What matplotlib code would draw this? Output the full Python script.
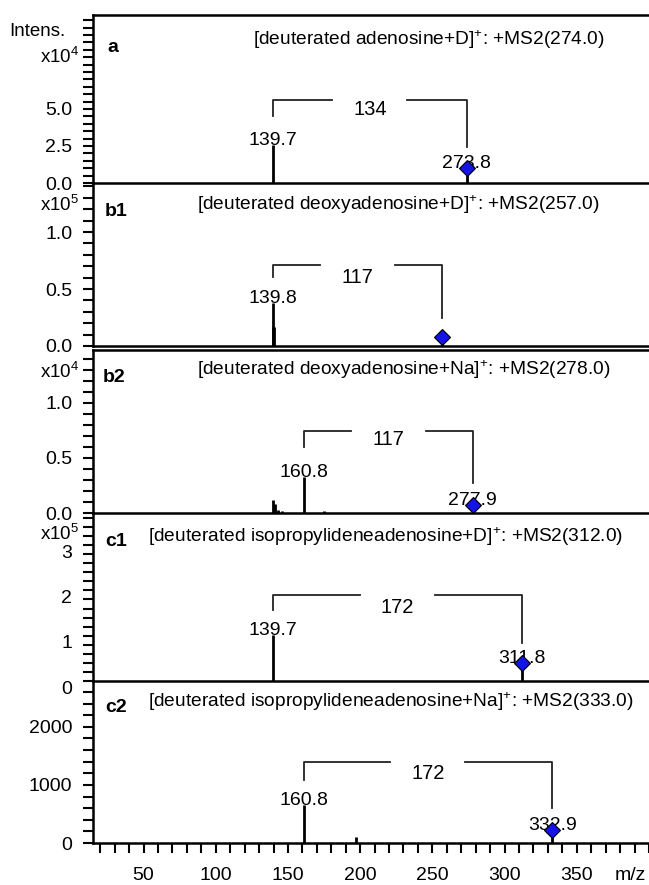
import matplotlib
matplotlib.use('Agg')
import matplotlib.pyplot as plt
import matplotlib.transforms as mtransforms
from matplotlib.ticker import MultipleLocator, FixedLocator, FixedFormatter

plt.rcParams['font.family'] = ['Liberation Sans', 'DejaVu Sans']
plt.rcParams['mathtext.fontset'] = 'custom'
plt.rcParams['mathtext.rm'] = 'Liberation Sans'
plt.rcParams['mathtext.default'] = 'regular'

# Peak lists (m/z, intensity) for each MS2 spectrum
a_mz = [139.7, 273.8]
a_int = [2.6e4, 1.0e4]

b1_mz = [139.3, 139.8, 140.3, 257.0]
b1_int = [0.17e5, 0.38e5, 0.17e5, 0.08e5]

b2_mz = [139.7, 141.0, 143.0, 146.0, 160.8, 175.0, 277.9]
b2_int = [0.12e4, 0.08e4, 0.03e4, 0.015e4, 0.33e4, 0.015e4, 0.07e4]

c1_mz = [139.7, 311.8]
c1_int = [1.02e5, 0.40e5]

c2_mz = [160.8, 197.0, 332.9]
c2_int = [655, 100, 225]

# fragment / precursor labels and neutral loss
frag_mz = [139.7, 139.8, 160.8, 139.7, 160.8]
prec_mz = [273.8, 257.0, 277.9, 311.8, 332.9]
prec_int = [1.0e4, 0.08e5, 0.07e4, 0.40e5, 225]
frag_labels = ['139.7', '139.8', '160.8', '139.7', '160.8']
prec_labels = ['273.8', '', '277.9', '311.8', '332.9']
loss_labels = ['134', '117', '117', '172', '172']

titles = [
    '[deuterated adenosine+D]$^{+}$: +MS2(274.0)',
    '[deuterated deoxyadenosine+D]$^{+}$: +MS2(257.0)',
    '[deuterated deoxyadenosine+Na]$^{+}$: +MS2(278.0)',
    '[deuterated isopropylideneadenosine+D]$^{+}$: +MS2(312.0)',
    '[deuterated isopropylideneadenosine+Na]$^{+}$: +MS2(333.0)',
]
panel_names = ['a', 'b1', 'b2', 'c1', 'c2']
y_major = [[0, 2.5e4, 5.0e4], [0, 0.5e5, 1.0e5], [0, 0.5e4, 1.0e4],
           [0, 1e5, 2e5, 3e5], [0, 1000, 2000]]
y_major_labels = [['0.0', '2.5', '5.0'], ['0.0', '0.5', '1.0'], ['0.0', '0.5', '1.0'],
                  ['0', '1', '2', '3'], ['0', '1000', '2000']]
y_minor = [0.5e4, 0.1e5, 0.1e4, 0.2e5, 200]
y_top = [11.35e4, 1.43e5, 1.48e4, 3.71e5, 2790]
multipliers = ['x10$^{4}$', 'x10$^{5}$', 'x10$^{4}$', 'x10$^{5}$', '']

W, H = 649, 885
fig = plt.figure(figsize=(W / 100, H / 100), dpi=100)

def fx(px):
    return px / W

def fy(py):
    return 1 - py / H

# panel extents in pixels (top, bottom)
panel_px = [(15, 183), (183, 346), (350, 513), (513, 681), (681, 843)]
left_px = 93
title_pos = [(253, 40), (197, 205), (197, 370), (148, 537), (148, 702)]
name_pos = [(107, 47), (105, 212), (103, 377), (105, 542), (105, 708)]
mult_y = [57, 205, 372, 534, None]
# the c1 tick labels sit a little below their ticks in the original
label_shift = [0, 0, 0, -6, 0]
# bracket layout in axes fraction: line, left end, right end, label
bracket = [(0.494, 0.40, 0.214, 0.44), (0.497, 0.423, 0.172, 0.423),
           (0.503, 0.405, 0.184, 0.448), (0.512, 0.423, 0.226, 0.44),
           (0.50, 0.389, 0.216, 0.432)]

mz_lists = [a_mz, b1_mz, b2_mz, c1_mz, c2_mz]
int_lists = [a_int, b1_int, b2_int, c1_int, c2_int]

for i in range(5):
    top, bot = panel_px[i]
    ax = fig.add_axes([fx(left_px), fy(bot), 1 - fx(left_px), (bot - top) / H])
    ax.patch.set_visible(False)
    ax.set_xlim(15, 400)
    ax.set_ylim(0, y_top[i])
    ax.vlines(mz_lists[i], 0, int_lists[i], color='black', lw=2)
    ax.plot(prec_mz[i], prec_int[i], 'D', ms=8, mfc='#1414e6', mec='black', mew=0.8,
            zorder=5, clip_on=False)

    ax.spines['right'].set_visible(False)
    if i not in (0, 2):
        ax.spines['top'].set_visible(False)
    for s in ['left', 'bottom', 'top']:
        ax.spines[s].set_linewidth(1.8)
        ax.spines[s].set_zorder(6)

    ax.yaxis.set_major_locator(FixedLocator(y_major[i]))
    ax.yaxis.set_major_formatter(FixedFormatter(y_major_labels[i]))
    ax.yaxis.set_minor_locator(MultipleLocator(y_minor[i]))
    ax.tick_params(axis='y', which='both', direction='out', length=7, width=1.5,
                   labelsize=14, pad=8)
    if label_shift[i]:
        shift = mtransforms.ScaledTranslation(0, label_shift[i] / 100, fig.dpi_scale_trans)
        for lbl in ax.get_yticklabels():
            lbl.set_transform(lbl.get_transform() + shift)

    if i == 4:
        ax.xaxis.set_minor_locator(MultipleLocator(10))
        ax.set_xticks([50, 100, 150, 200, 250, 300, 350])
        ax.tick_params(axis='x', which='both', direction='out', length=7, width=1.5,
                       labelsize=14, pad=10)
    else:
        ax.set_xticks([])

    # peak labels
    ax.annotate(frag_labels[i], (frag_mz[i], max(int_lists[i])), xytext=(0, -3),
                textcoords='offset points', ha='center', va='bottom', fontsize=14)
    if prec_labels[i]:
        ax.annotate(prec_labels[i], (prec_mz[i], prec_int[i]), xytext=(0, -3),
                    textcoords='offset points', ha='center', va='bottom', fontsize=14)

    # neutral loss bracket
    trans = ax.get_xaxis_transform()
    yl, yb1, yb2, yt = bracket[i]
    x1, x2 = frag_mz[i], prec_mz[i]
    xm = (x1 + x2) / 2
    gap = 26
    ax.plot([x1, x1, xm - gap], [yb1, yl, yl], color='#222222', lw=1.3, transform=trans)
    ax.plot([xm + gap, x2, x2], [yl, yl, yb2], color='#222222', lw=1.3, transform=trans)
    ax.text(xm, yt, loss_labels[i], transform=trans, ha='center', va='center',
            fontsize=14.5)

    fig.text(fx(title_pos[i][0]), fy(title_pos[i][1]), titles[i], ha='left',
             va='center', fontsize=13.8)
    fig.text(fx(name_pos[i][0]), fy(name_pos[i][1]), panel_names[i], ha='left',
             va='center', fontsize=14, fontweight='bold')
    if multipliers[i]:
        fig.text(fx(79), fy(mult_y[i]), multipliers[i], ha='right', va='center',
                 fontsize=13.5)

fig.text(fx(37), fy(32), 'Intens.', ha='center', va='center', fontsize=13.5)
fig.text(fx(630), fy(876), 'm/z', ha='center', va='center', fontsize=14)

fig.savefig('out.png', dpi=100)
